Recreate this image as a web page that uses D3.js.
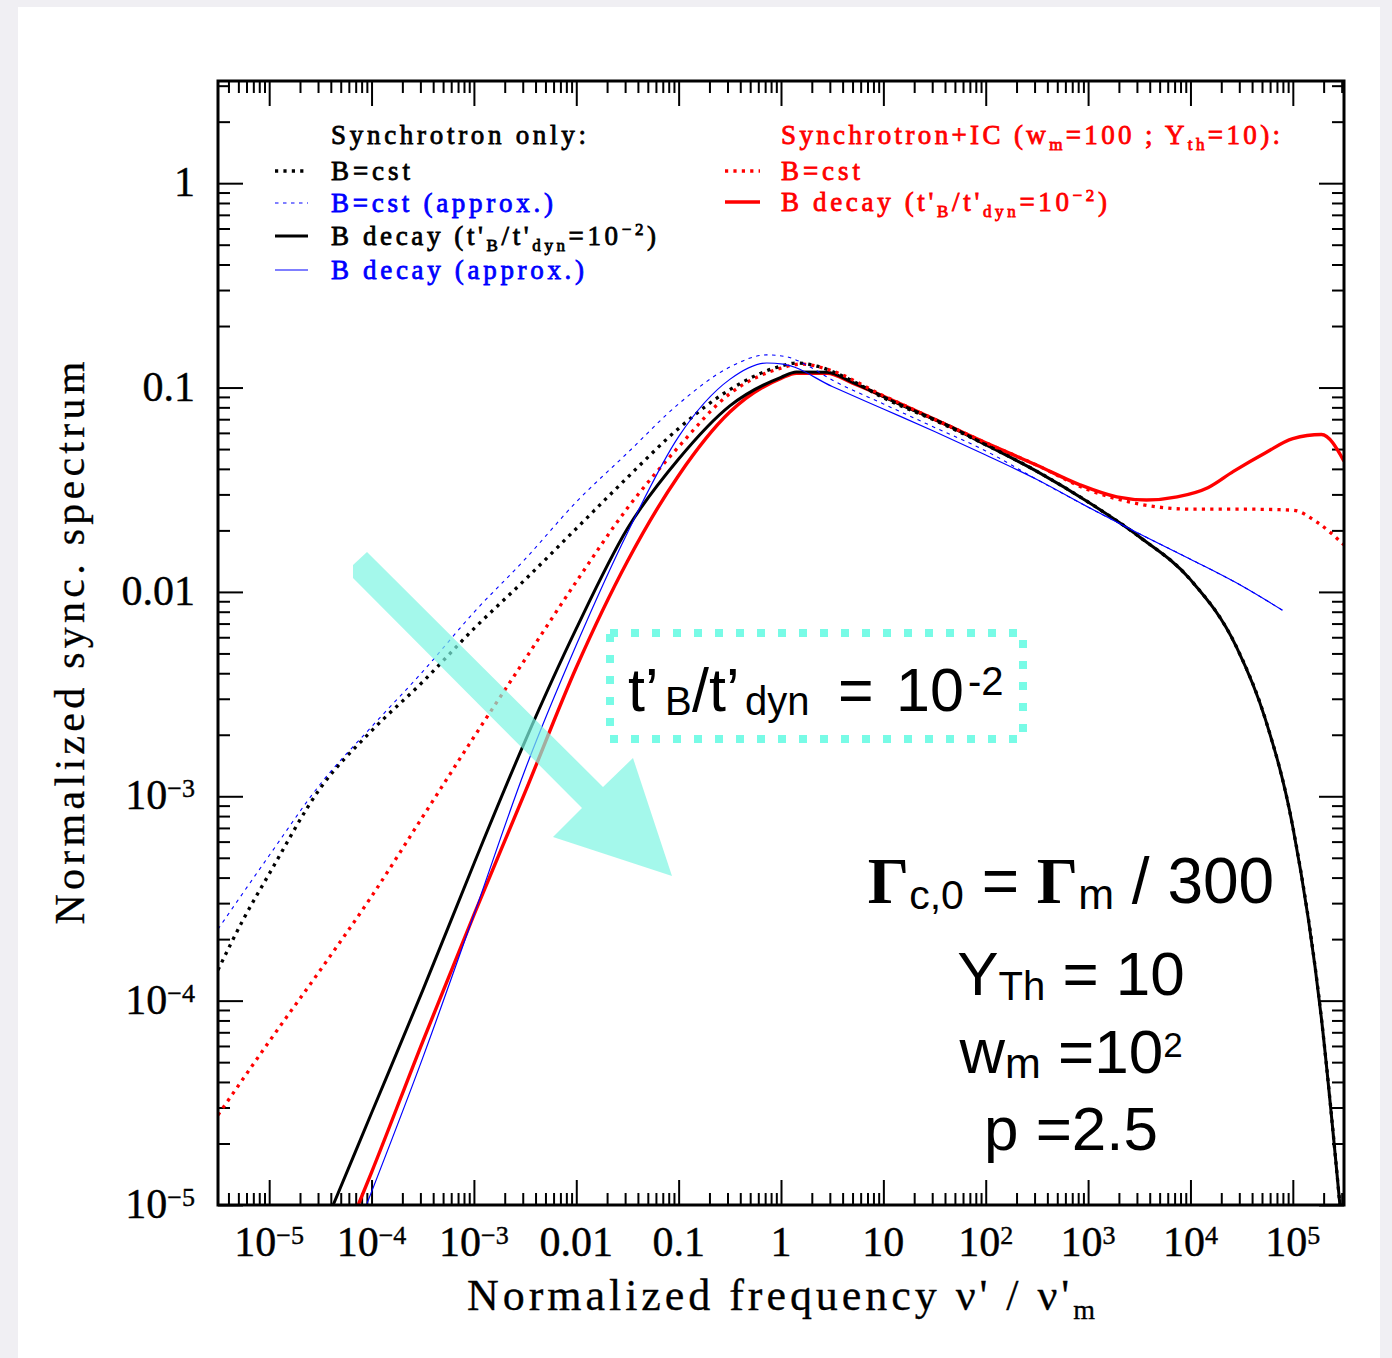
<!DOCTYPE html>
<html><head><meta charset="utf-8">
<script src="https://cdn.jsdelivr.net/npm/d3@7"></script>
<style>body{margin:0;background:#f0eff3;overflow:hidden}</style>
</head><body><svg id="c" width="1392" height="1358"></svg>
<script>
// ---------------- data (log10 values) ----------------
const xTickValues = [1e-5,1e-4,1e-3,1e-2,1e-1,1,10,1e2,1e3,1e4,1e5];
const xTickLabels = ["10^{−5}","10^{−4}","10^{−3}","0.01","0.1","1","10","10^{2}","10^{3}","10^{4}","10^{5}"];
const yTickValues = [1,0.1,0.01,1e-3,1e-4,1e-5];
const yTickLabels = ["1","0.1","0.01","10^{−3}","10^{−4}","10^{−5}"];

// Synchrotron only, B = cst (black dotted)
const syncCstLogNu = [-5.5,-5.25,-5.0,-4.5,-4.0,-3.5,-3.0,-2.5,-2.0,-1.5,-1.0,-0.5,0.0,0.15,0.35,0.65,1.0,1.5,2.0,2.5,3.0,3.5,4.0,4.45,4.73,5.0,5.28,5.46];
const syncCstLogF  = [-3.85,-3.60,-3.38,-2.96,-2.68,-2.44,-2.18,-1.94,-1.69,-1.44,-1.20,-1.01,-0.895,-0.88,-0.895,-0.955,-1.05,-1.16,-1.28,-1.41,-1.56,-1.73,-1.94,-2.27,-2.62,-3.15,-4.09,-5.0];
// Synchrotron only, B = cst (approx.) (blue dotted)
const syncCstApproxLogNu = [-5.5,-5.0,-4.5,-4.0,-3.5,-3.0,-2.5,-2.0,-1.5,-1.0,-0.5,-0.14,0.06,0.25,0.5,1.0,1.5,2.0,2.5,3.0,3.5,4.0,4.5,4.9];
const syncCstApproxLogF  = [-3.65,-3.29,-2.94,-2.66,-2.39,-2.10,-1.84,-1.56,-1.32,-1.08,-0.90,-0.84,-0.85,-0.89,-0.963,-1.08,-1.195,-1.31,-1.45,-1.585,-1.715,-1.84,-1.97,-2.09];
// Synchrotron only, B decay (black solid)
const syncDecayLogNu = [-4.375,-4.0,-3.5,-3.0,-2.5,-2.0,-1.5,-1.0,-0.5,0.0,0.15,0.45,0.7,1.15,1.65,2.0,2.5,3.0,3.5,4.0,4.45,4.73,5.0,5.28,5.46];
const syncDecayLogF  = [-5.0,-4.55,-3.95,-3.33,-2.73,-2.18,-1.69,-1.35,-1.09,-0.95,-0.924,-0.925,-0.975,-1.08,-1.19,-1.28,-1.41,-1.56,-1.73,-1.94,-2.27,-2.62,-3.15,-4.09,-5.0];
// Synchrotron only, B decay (approx.) (blue solid)
const syncDecayApproxLogNu = [-4.05,-3.5,-3.0,-2.5,-2.0,-1.5,-1.0,-0.5,-0.14,0.02,0.5,1.0,1.5,2.0,2.5,3.0,3.5,4.0,4.5,4.9];
const syncDecayApproxLogF  = [-5.0,-4.28,-3.58,-2.87,-2.26,-1.71,-1.24,-0.96,-0.88,-0.885,-0.995,-1.105,-1.215,-1.33,-1.45,-1.585,-1.715,-1.84,-1.97,-2.09];
// Synchrotron + IC, B = cst (red dotted)
const icCstLogNu = [-5.5,-5.0,-4.5,-4.0,-3.5,-3.0,-2.5,-2.0,-1.5,-1.0,-0.5,0.0,0.2,0.45,1.0,1.5,2.0,2.5,3.0,3.5,4.0,4.5,5.0,5.24,5.5];
const icCstLogF  = [-4.56,-4.20,-3.85,-3.49,-3.10,-2.71,-2.33,-1.95,-1.59,-1.29,-1.03,-0.905,-0.885,-0.91,-1.04,-1.155,-1.27,-1.38,-1.50,-1.57,-1.595,-1.595,-1.60,-1.66,-1.77];
// Synchrotron + IC, B decay (red solid)
const icDecayLogNu = [-4.13,-4.0,-3.5,-3.0,-2.5,-2.0,-1.5,-1.0,-0.5,0.0,0.15,0.45,0.7,1.15,1.65,2.0,2.5,2.92,3.28,3.57,3.87,4.17,4.42,4.73,5.0,5.28,5.5];
const icDecayLogF  = [-5.0,-4.84,-4.20,-3.58,-2.98,-2.37,-1.85,-1.43,-1.12,-0.955,-0.93,-0.93,-0.978,-1.076,-1.19,-1.27,-1.38,-1.476,-1.535,-1.55,-1.535,-1.49,-1.41,-1.32,-1.25,-1.23,-1.36];

const legendLeftLabels = ["Synchrotron only:","B=cst","B=cst (approx.)","B decay (t'_{B}/t'_{dyn}=10^{−2})","B decay (approx.)"];
const legendRightLabels = ["Synchrotron+IC (w_{m}=100 ; Y_{th}=10):","B=cst","B decay (t'_{B}/t'_{dyn}=10^{−2})"];

// ---------------- drawing ----------------
const SERIF = "'Liberation Serif','Times New Roman',serif";
const SANS = "'Liberation Sans',Arial,Helvetica,sans-serif";
const svg = d3.select("#c");
svg.append("rect").attr("x",18).attr("y",7).attr("width",1362).attr("height",1351).attr("fill","#fff");

const L=218,R=1344,T=81,B=1205;
const x = d3.scaleLog().domain([Math.pow(10,-5.5),Math.pow(10,5.5)]).range([L,R]);
const y = d3.scaleLog().domain([1e-5,Math.pow(10,0.5)]).range([B,T]);

// ticks
const majorX = xTickValues;
const minorX = [];
for (let e=-6;e<=5;e++) for (let m=2;m<=9;m++){const v=m*Math.pow(10,e); if(v>x.domain()[0]&&v<x.domain()[1]) minorX.push(v);}
const majorY = yTickValues;
const minorY = [];
for (let e=-5;e<=0;e++) for (let m=2;m<=9;m++){const v=m*Math.pow(10,e); if(v>y.domain()[0]&&v<y.domain()[1]) minorY.push(v);}

function tickGroup(gen, tr, vals, size){
  const g = svg.append("g").attr("transform",tr)
    .call(gen.tickValues(vals).tickSize(size).tickSizeOuter(0).tickFormat(()=>""));
  g.select(".domain").remove();
  g.selectAll("text").remove();
  g.selectAll("line").attr("stroke","#000").attr("stroke-width",2);
}
tickGroup(d3.axisBottom(x), `translate(0,${T})`, minorX, 12);
tickGroup(d3.axisBottom(x), `translate(0,${T})`, majorX, 25);
tickGroup(d3.axisTop(x), `translate(0,${B})`, minorX, 12);
tickGroup(d3.axisTop(x), `translate(0,${B})`, majorX, 25);
tickGroup(d3.axisRight(y), `translate(${L},0)`, minorY, 12);
tickGroup(d3.axisRight(y), `translate(${L},0)`, majorY, 25);
tickGroup(d3.axisLeft(y), `translate(${R},0)`, minorY, 12);
tickGroup(d3.axisLeft(y), `translate(${R},0)`, majorY, 25);

function rich(t, str, subFs, subDy, supDy){
  const parts = str.split(/(_\{[^}]*\}|\^\{[^}]*\})/).filter(s=>s.length);
  let cur=0;
  parts.forEach(p=>{
    const s=t.append("tspan");
    if(p.startsWith("_{")){ s.text(p.slice(2,-1)).attr("font-size",subFs).attr("dy",subDy-cur); cur=subDy; }
    else if(p.startsWith("^{")){ s.text(p.slice(2,-1)).attr("font-size",subFs).attr("dy",-supDy-cur); cur=-supDy; }
    else { s.text(p); if(cur!==0) s.attr("dy",-cur); cur=0; }
  });
  return t;
}

// tick labels
xTickValues.forEach((v,i)=>{
  const t=svg.append("text").attr("x",x(v)).attr("y",1256).attr("text-anchor","middle")
    .attr("font-family",SERIF).attr("font-size",42).attr("fill","#000").attr("stroke","#000").attr("stroke-width",0.4);
  rich(t, xTickLabels[i], 26, 0, 12);
});
yTickValues.forEach((v,i)=>{
  const t=svg.append("text").attr("x",195).attr("y",y(v)+13).attr("text-anchor","end")
    .attr("font-family",SERIF).attr("font-size",42).attr("fill","#000").attr("stroke","#000").attr("stroke-width",0.4);
  rich(t, yTickLabels[i], 26, 0, 12);
});

// axis titles
rich(svg.append("text").attr("x",467).attr("y",1310).attr("font-family",SERIF).attr("font-size",44)
  .attr("fill","#000").attr("stroke","#000").attr("stroke-width",0.3).attr("textLength",628).attr("lengthAdjust","spacing"),
  "Normalized frequency ν' / ν'_{m}", 28, 9, 0);
svg.append("text").attr("transform","translate(84,643) rotate(-90)").attr("text-anchor","middle")
  .attr("font-family",SERIF).attr("font-size",42).attr("fill","#000").attr("stroke","#000").attr("stroke-width",0.3)
  .attr("textLength",563).attr("lengthAdjust","spacing").text("Normalized sync. spectrum");

// curves
svg.append("clipPath").attr("id","pc").append("rect").attr("x",L).attr("y",T).attr("width",R-L).attr("height",B-T);
const line = d3.line().curve(d3.curveMonotoneX).x(d=>x(Math.pow(10,d[0]))).y(d=>y(Math.pow(10,d[1])));
const zip=(a,b)=>a.map((v,i)=>[v,b[i]]);
const styles = {
  blackDot:{stroke:"#000",w:3.3,dash:"3.2,5.2"},
  blueDot:{stroke:"#0000ff",w:1.1,dash:"3.5,4.5"},
  blackSolid:{stroke:"#000",w:3,dash:null},
  blueSolid:{stroke:"#0000ff",w:1.2,dash:null},
  redDot:{stroke:"#ff0000",w:3.3,dash:"3.2,5.2"},
  redSolid:{stroke:"#ff0000",w:3.4,dash:null}
};
const curves = [
  [icDecayLogNu, icDecayLogF, "redSolid"],
  [syncDecayLogNu, syncDecayLogF, "blackSolid"],
  [icCstLogNu, icCstLogF, "redDot"],
  [syncCstLogNu, syncCstLogF, "blackDot"],
  [syncCstApproxLogNu, syncCstApproxLogF, "blueDot"],
  [syncDecayApproxLogNu, syncDecayApproxLogF, "blueSolid"]
];
const cg = svg.append("g").attr("clip-path","url(#pc)");
curves.forEach(([a,b,k])=>{
  const s=styles[k];
  const p=cg.append("path").attr("d",line(zip(a,b))).attr("fill","none").attr("stroke",s.stroke)
    .attr("stroke-width",s.w).attr("stroke-linejoin","round");
  if(s.dash) p.attr("stroke-dasharray",s.dash);
});

// frame
svg.append("rect").attr("x",L).attr("y",T).attr("width",R-L).attr("height",B-T).attr("fill","none").attr("stroke","#000").attr("stroke-width",3);

// legend
function legendText(xp, yp, str, col, len){
  const t=svg.append("text").attr("x",xp).attr("y",yp).attr("font-family",SERIF).attr("font-size",27)
    .attr("fill",col).attr("stroke",col).attr("stroke-width",0.8);
  if(len) t.attr("textLength",len).attr("lengthAdjust","spacing");
  rich(t,str,17,6,10);
}
function legendSample(x1,x2,yp,k){
  const s=styles[k];
  const l=svg.append("line").attr("x1",x1).attr("x2",x2).attr("y1",yp).attr("y2",yp).attr("stroke",s.stroke).attr("stroke-width",s.w);
  if(s.dash) l.attr("stroke-dasharray",s.dash);
}
const leftLens=[255,79,222,325,253];
const leftY=[144,180,212,245,279];
const leftKeys=[null,"blackDot","blueDot","blackSolid","blueSolid"];
const leftCols=["#000","#000","#0000ff","#000","#0000ff"];
legendLeftLabels.forEach((s,i)=>{
  legendText(331,leftY[i],s,leftCols[i],leftLens[i]);
  if(leftKeys[i]) legendSample(275,308,leftY[i]-9,leftKeys[i]);
});
const rightLens=[499,79,326];
const rightY=[144,180,211];
const rightKeys=[null,"redDot","redSolid"];
legendRightLabels.forEach((s,i)=>{
  legendText(781,rightY[i],s,"#ff0000",rightLens[i]);
  if(rightKeys[i]) legendSample(725,760,rightY[i]-9,rightKeys[i]);
});

// arrow
svg.append("polygon")
  .attr("points","367,552 353,565 353,578 582,808 553,837 672,876 633,758 603,787")
  .attr("fill","#7ef5e2").attr("fill-opacity",0.7);

// dotted box
svg.append("rect").attr("x",610).attr("y",633).attr("width",413).attr("height",106)
  .attr("fill","none").attr("stroke","#78fbe6").attr("stroke-width",8).attr("stroke-dasharray","8,13");
const bt = svg.append("text").attr("y",711).attr("font-family",SANS).attr("font-size",61).attr("fill","#000");
bt.append("tspan").attr("x",628).text("t’");
bt.append("tspan").attr("x",665).attr("dy",4).attr("font-size",40).text("B");
bt.append("tspan").attr("x",692).attr("dy",-4).text("/t’");
bt.append("tspan").attr("x",745).attr("dy",4).attr("font-size",40).text("dyn");
bt.append("tspan").attr("x",838).attr("dy",-4).text("=");
bt.append("tspan").attr("x",896).text("10");
bt.append("tspan").attr("x",968).attr("dy",-16).attr("font-size",40).text("-2");

// parameter annotation
function annot(yb, segs){
  const t=svg.append("text").attr("x",1071).attr("y",yb).attr("text-anchor","middle").attr("fill","#000");
  let cur=0;
  segs.forEach(([str,fs,shift,fam,wt])=>{
    const s=t.append("tspan").text(str).attr("font-size",fs).attr("font-family",fam||SANS);
    if(wt) s.attr("font-weight",wt);
    if(shift!==cur) s.attr("dy",shift-cur);
    cur=shift;
  });
}
annot(903,[["Γ",65,0,SERIF,"bold"],["c,0",41,6],[" = ",64,0],["Γ",65,0,SERIF,"bold"],["m",43,6],[" / 300",64,0]]);
annot(995,[["Y",62,0],["Th",40,5],[" = 10",62,0]]);
annot(1073,[["w",63,0],["m",43,5],[" =10",62,0],["2",35,-16]]);
annot(1150,[["p =2.5",62,0]]);
</script>
</body></html>
